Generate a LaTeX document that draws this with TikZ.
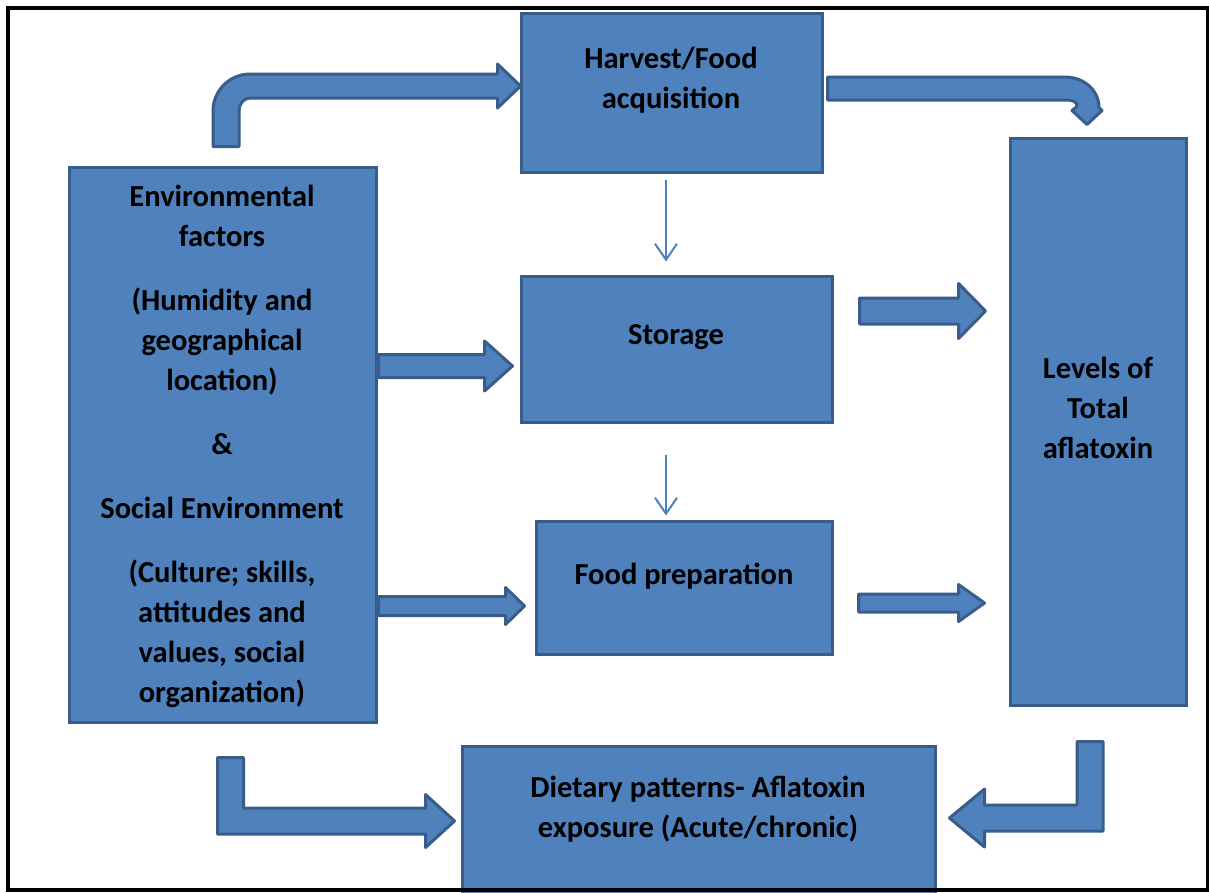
\documentclass[tikz,border=0pt]{standalone}
\usepackage{fontspec}
\setmainfont{Carlito}
\usetikzlibrary{calc,arrows.meta}
\definecolor{bfill}{HTML}{4F81BD}
\definecolor{bline}{HTML}{385D8A}
\newcommand\rblock[5]{%
  \draw[blk] let \p1=(#1), \p2=(#2) in
   (\x1,\y2+#3) -- (\x2-#5,\y2+#3) -- (\x2-#5,\y2+#4) -- (\x2,\y2) --
   (\x2-#5,\y2-#4) -- (\x2-#5,\y2-#3) -- (\x1,\y2-#3) -- cycle;}
\begin{document}
\begin{tikzpicture}[x=1pt,y=-1pt,
  box/.style={draw=bline,fill=bfill,line width=3pt,rectangle,inner sep=0pt},
  txt/.style={font=\fontsize{30.5}{40}\selectfont\bfseries,align=center,text=black,inner sep=0pt},
  blk/.style={draw=bline,fill=bfill,line width=3pt,line join=round},
  thinarrow/.style={draw=bfill,line width=2pt,-{Straight Barb[length=16pt,width=22pt]}}]
\useasboundingbox (0,0) rectangle (1209,892);
\clip (0,0) rectangle (1209,892);
\fill[white] (0,0) rectangle (1209,892);

% boxes
\node[box,minimum width=301,minimum height=159] (harv) at (671.5,92.5) {};
\node[box,minimum width=307,minimum height=555] (env) at (222.5,444.5) {};
\node[box,minimum width=311,minimum height=146] (sto) at (676.5,349) {};
\node[box,minimum width=296,minimum height=133] (food) at (684,587.5) {};
\node[box,minimum width=176,minimum height=567] (lev) at (1098,421.5) {};
\node[box,minimum width=473,minimum height=160] (diet) at (698.5,826) {};

% texts
\node[txt] (harvt) at (671,80.5) {Harvest/Food\\acquisition};
\node[txt] (envt) at (222,446) {Environmental\\factors\\[24pt](Humidity and\\geographical\\location)\\[24pt]\&\\[24pt]Social Environment\\[24pt](Culture; skills,\\attitudes and\\values, social\\organization)};
\node[txt] (stot) at (676,337.5) {Storage};
\node[txt] (foodt) at (684,576) {Food preparation};
\node[txt] (levt) at (1098,408) {Levels of\\Total\\aflatoxin};
\node[txt] (diett) at (698,809) {Dietary patterns- Aflatoxin\\exposure (Acute/chronic)};

% connector end points
\coordinate (a1s) at ($(env.east)+(1,-78.5)$);
\coordinate (a1t) at ($(sto.west)+(-7,17)$);
\coordinate (a2s) at ($(env.east)+(1,161.5)$);
\coordinate (a2t) at ($(food.west)+(-10,18.5)$);
\coordinate (a3s) at ($(sto.east)+(26,-38)$);
\coordinate (a3t) at ($(lev.west)+(-23,-110.5)$);
\coordinate (a4s) at ($(food.east)+(25,15.5)$);
\coordinate (a4t) at ($(lev.west)+(-24,181.5)$);
\coordinate (bls) at ($(env.south)+(8,34)$);
\coordinate (blt) at ($(diet.west)+(-6,-5)$);
\coordinate (brs) at ($(lev.south)+(-8,35)$);
\coordinate (brt) at ($(diet.east)+(13,-8)$);
\coordinate (tls) at ($(env.north)+(3.5,-19)$);
\coordinate (tlt) at ($(harv.west)+(1,-6.5)$);
\coordinate (trs) at ($(harv.east)+(4,-4)$);
\coordinate (trt) at ($(lev.north)+(-11,-12)$);

% straight block arrows
\rblock{a1s}{a1t}{11.5}{25}{28}
\rblock{a2s}{a2t}{9.5}{18.5}{19}
\rblock{a3s}{a3t}{13}{27.5}{27}
\rblock{a4s}{a4t}{9}{18.5}{26}

% bent arrow bottom left
\draw[blk] let \p1=(bls), \p2=(blt) in
  (\x1-13,\y1) -- (\x1+13,\y1) -- (\x1+13,\y2+13) -- (\x2-29,\y2+13) --
  (\x2-29,\y2+26.5) -- (\x2,\y2) -- (\x2-29,\y2-26.5) -- (\x2-29,\y2-13) --
  (\x1-13,\y2-13) -- cycle;
% bent arrow bottom right
\draw[blk] let \p1=(brs), \p2=(brt) in
  (\x1+13,\y1) -- (\x1-13,\y1) -- (\x1-13,\y2+13) -- (\x2+35,\y2+13) --
  (\x2+35,\y2+29) -- (\x2,\y2) -- (\x2+35,\y2-29) -- (\x2+35,\y2-13) --
  (\x1+13,\y2-13) -- cycle;
% curved arrow top left
\draw[blk] let \p1=(tls), \p2=(tlt) in
  (\x1-13,\y1) -- (\x1-13,\y2-25) .. controls (\x1-13,\y2-4.6) and (\x1+3.6,\y2+12) ..
  (\x1+24,\y2+12) -- (\x2-23,\y2+12) -- (\x2-23,\y2+22) -- (\x2,\y2) --
  (\x2-23,\y2-22) -- (\x2-23,\y2-12) -- (\x1+24,\y2-12) ..
  controls (\x1+17.9,\y2-12) and (\x1+13,\y2-17.8) .. (\x1+13,\y2-25) -- (\x1+13,\y1) -- cycle;
% curved arrow top right
\draw[blk] let \p1=(trs), \p2=(trt) in
  (\x1,\y1+11.5) -- (\x2-22,\y1+11.5) .. controls (\x2-3,\y1+11.5) and (\x2+12,\y2+34) ..
  (\x2+12,\y2+17) -- (\x2+15,\y2+14) -- (\x2,\y2) -- (\x2-15,\y2+14) -- (\x2-10,\y2+18) ..
  controls (\x2-10,\y2+23) and (\x2-14,\y1-11.5) .. (\x2-22,\y1-11.5) -- (\x1,\y1-11.5) -- cycle;

% thin arrows
\draw[thinarrow] ($(harv.south)+(-5.5,6)$) -- ($(sto.north)+(-10.5,-13)$);
\draw[thinarrow] ($(sto.south)+(-10.5,31)$) -- ($(food.north)+(-18,-4)$);

% frame
\draw[line width=3.5pt] (8,8) rectangle (1207.5,890);
\end{tikzpicture}
\end{document}
